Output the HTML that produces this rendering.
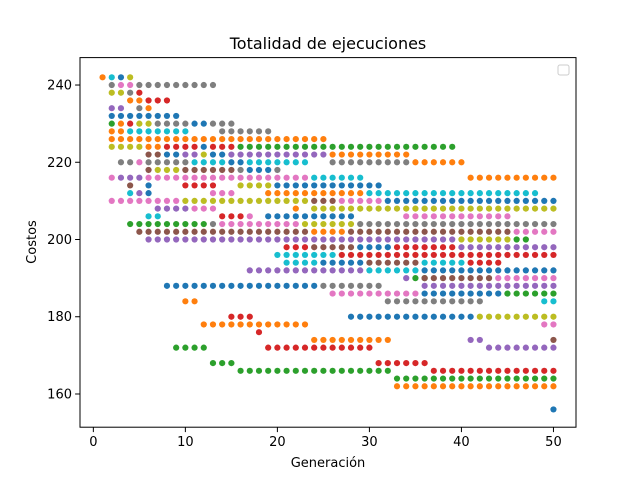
<!DOCTYPE html>
<html><head><meta charset="utf-8"><style>
body{margin:0;background:#fff;}
svg text{font-family:"DejaVu Sans","Liberation Sans",sans-serif;fill:#000;}
</style></head><body>
<svg id="chart" width="640" height="480" viewBox="0 0 640 480" xmlns="http://www.w3.org/2000/svg">
<rect width="640" height="480" fill="#fff"/>
<text x="328" y="49" font-size="16" text-anchor="middle">Totalidad de ejecuciones</text>
<g id="marks"></g>
<rect x="80" y="57.6" width="496" height="369.6" fill="none" stroke="#000" stroke-width="1"/>
<g id="xticks"></g>
<g id="yticks"></g>
<text x="328" y="467" font-size="13" text-anchor="middle">Generación</text>
<text x="36" y="242" font-size="13" text-anchor="middle" transform="rotate(-90 36 242)">Costos</text>
<rect x="558" y="65" width="11" height="10" rx="2" fill="#fff" stroke="#ccc"/>
</svg>
<script>
const xTicks = [0, 10, 20, 30, 40, 50];
const yTicks = [160, 180, 200, 220, 240];
const seriesColors = ["#1f77b4","#ff7f0e","#2ca02c","#d62728","#9467bd","#8c564b","#e377c2","#7f7f7f","#bcbd22","#17becf"];
// runs: [cost, fromGeneration, toGeneration]
const blueRuns = [[242,3,3],[232,2,9],[230,11,12],[224,12,12],[222,8,9],[222,13,14],[220,15,16],[218,17,19],[214,6,6],[214,20,31],[212,6,6],[210,32,50],[206,19,28],[198,29,32],[194,25,29],[192,36,50],[188,8,24],[186,36,44],[180,28,41],[156,50,50]];
const orangeRuns = [[242,1,1],[236,4,5],[234,6,6],[230,3,3],[228,2,3],[226,2,25],[224,6,7],[222,26,34],[220,35,40],[216,41,50],[212,19,29],[208,22,22],[202,24,27],[184,10,11],[178,12,23],[174,24,32],[162,33,50]];
const greenRuns = [[230,2,2],[224,16,39],[204,4,12],[200,46,47],[190,35,36],[186,45,50],[172,9,12],[168,13,15],[166,16,32],[164,33,50]];
const redRuns = [[238,5,5],[236,6,8],[230,4,4],[224,8,11],[224,13,15],[214,10,13],[206,14,16],[198,21,23],[198,33,39],[196,27,50],[194,41,44],[180,15,17],[176,18,18],[172,19,30],[168,31,36],[166,37,50]];
const purpleRuns = [[234,2,3],[222,10,11],[222,15,25],[216,3,5],[212,5,5],[208,7,10],[200,6,39],[198,40,50],[192,17,29],[190,34,34],[188,36,50],[174,41,42],[172,43,50]];
const brownRuns = [[222,6,7],[218,6,6],[218,10,15],[214,4,4],[210,24,26],[202,5,23],[202,28,45],[198,24,28],[194,30,35],[190,36,43],[174,50,50]];
const pinkRuns = [[240,3,4],[220,5,5],[216,2,2],[216,6,23],[210,2,9],[210,27,31],[208,11,13],[212,13,15],[206,17,17],[206,34,45],[204,14,22],[202,46,50],[190,44,50],[186,26,35],[178,49,50]];
const grayRuns = [[240,2,2],[240,5,13],[238,4,4],[234,5,5],[230,7,10],[230,13,15],[228,14,19],[220,3,4],[220,6,10],[220,26,34],[218,16,16],[218,20,20],[204,13,13],[204,29,50],[188,25,31],[184,32,42]];
const oliveRuns = [[242,4,4],[238,2,3],[230,5,6],[224,2,5],[222,12,12],[218,7,9],[214,16,19],[210,10,23],[208,24,50],[204,23,28],[200,40,45],[180,42,50]];
const cyanRuns = [[242,2,2],[228,4,10],[220,11,14],[220,17,23],[216,24,29],[212,4,4],[212,30,48],[206,6,7],[196,20,26],[194,21,24],[194,36,40],[192,30,35],[184,49,50]];
const allRuns = [blueRuns, orangeRuns, greenRuns, redRuns, purpleRuns, brownRuns, pinkRuns, grayRuns, oliveRuns, cyanRuns];

const NS = "http://www.w3.org/2000/svg";
const L = 80, R = 576, T = 57.6, B = 427.2;
const xMin = -1.45, xMax = 52.45, yMin = 151.4, yMax = 247.1;
function xScale(v){ return L + (v - xMin) / (xMax - xMin) * (R - L); }
function yScale(v){ return B - (v - yMin) / (yMax - yMin) * (B - T); }

const marks = document.getElementById('marks');
allRuns.forEach((runs, si) => {
  runs.forEach(run => {
    for (let g = run[1]; g <= run[2]; g++) {
      const c = document.createElementNS(NS, 'circle');
      c.setAttribute('cx', xScale(g));
      c.setAttribute('cy', yScale(run[0]));
      c.setAttribute('r', 3.1);
      c.setAttribute('fill', seriesColors[si]);
      
      
      marks.appendChild(c);
    }
  });
});

const xg = document.getElementById('xticks');
xTicks.forEach(t => {
  const x = xScale(t);
  const ln = document.createElementNS(NS, 'line');
  ln.setAttribute('x1', x); ln.setAttribute('x2', x);
  ln.setAttribute('y1', B); ln.setAttribute('y2', B + 4.9);
  ln.setAttribute('stroke', '#000');
  
  
  xg.appendChild(ln);
  const tx = document.createElementNS(NS, 'text');
  tx.setAttribute('x', x); tx.setAttribute('y', B + 19);
  tx.setAttribute('font-size', '13'); tx.setAttribute('text-anchor', 'middle');
  tx.textContent = t;
  
  
  xg.appendChild(tx);
});
const yg = document.getElementById('yticks');
yTicks.forEach(t => {
  const y = yScale(t);
  const ln = document.createElementNS(NS, 'line');
  ln.setAttribute('x1', L - 4.9); ln.setAttribute('x2', L);
  ln.setAttribute('y1', y); ln.setAttribute('y2', y);
  ln.setAttribute('stroke', '#000');
  
  
  yg.appendChild(ln);
  const tx = document.createElementNS(NS, 'text');
  tx.setAttribute('x', L - 8); tx.setAttribute('y', y + 4.5);
  tx.setAttribute('font-size', '13'); tx.setAttribute('text-anchor', 'end');
  tx.textContent = t;
  
  
  yg.appendChild(tx);
});
</script>
</body></html>
